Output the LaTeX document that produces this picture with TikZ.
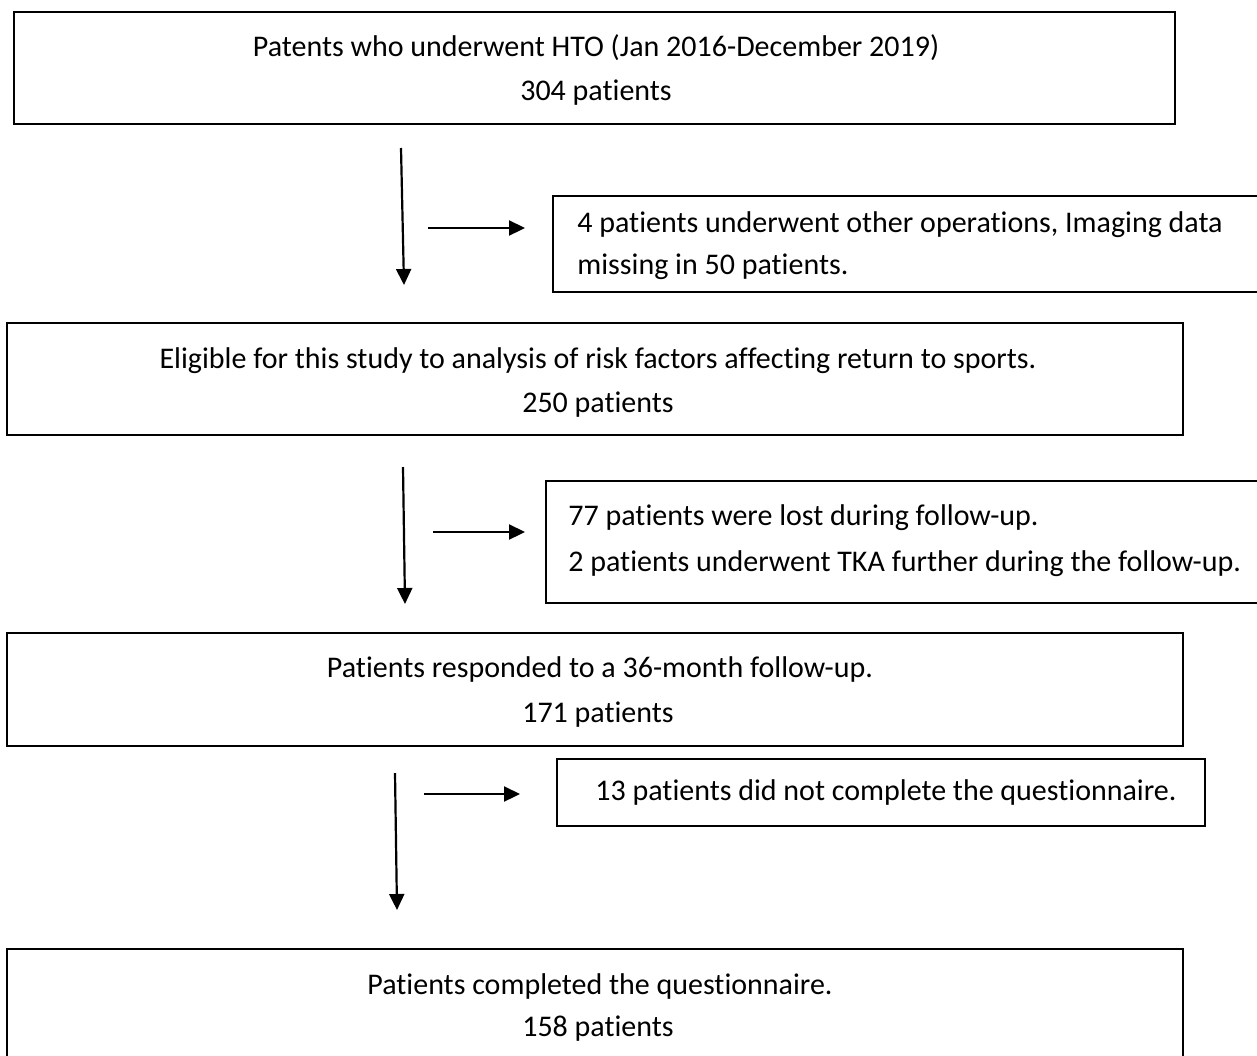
\documentclass[tikz,border=0pt]{standalone}
\usepackage{fontspec}
\setmainfont{Carlito}[Ligatures={NoCommon}]
\usetikzlibrary{arrows.meta,fit}
\begin{document}
\begin{tikzpicture}[x=0.5pt,y=-0.5pt,
  box/.style={draw, line width=1.2pt, inner sep=0pt},
  txt/.style={font=\fontsize{15}{18}\selectfont, inner sep=0pt},
  arr/.style={line width=1.1pt, -{Triangle[length=8pt,width=7.5pt]}}]
\useasboundingbox (0,0) rectangle (1257,1055);
% main boxes
\node[box, fit={(14,12) (1175,124)}] (b1) {};
\node[txt, anchor=base] (t1a) at (596,56) {Patents who underwent HTO (Jan 2016-December 2019)};
\node[txt, anchor=base] (t1b) at (596,100) {304 patients};

\node[box, fit={(7,323) (1183,435)}] (b2) {};
\node[txt, anchor=base] (t2a) at (598,368) {Eligible for this study to analysis of risk factors affecting return to sports.};
\node[txt, anchor=base] (t2b) at (598,412) {250 patients};

\node[box, fit={(7,633) (1183,746)}] (b3) {};
\node[txt, anchor=base] (t3a) at (600,677) {Patients responded to a 36-month follow-up.};
\node[txt, anchor=base] (t3b) at (598,722) {171 patients};

\node[box, fit={(7,949) (1183,1062)}] (b4) {};
\node[txt, anchor=base] (t4a) at (600,994) {Patients completed the questionnaire.};
\node[txt, anchor=base] (t4b) at (598,1036) {158 patients};

% side boxes
\node[box, fit={(553,196) (1266,292)}] (s1) {};
\node[txt, anchor=base west] (s1a) at (577,232) {4 patients underwent other operations, Imaging data};
\node[txt, anchor=base west] (s1b) at (577,274) {missing in 50 patients.};

\node[box, fit={(546,481) (1266,603)}] (s2) {};
\node[txt, anchor=base west] (s2a) at (568,525) {77 patients were lost during follow-up.};
\node[txt, anchor=base west] (s2b) at (568,571) {2 patients underwent TKA further during the follow-up.};

\node[box, fit={(557,759) (1205,826)}] (s3) {};
\node[txt, anchor=base west] (s3a) at (595,800) {13 patients did not complete the questionnaire.};

% arrow endpoints
\coordinate (v1s) at (401,148); \coordinate (v1e) at (404,285);
\coordinate (h1s) at (428,228); \coordinate (h1e) at (525,228);
\coordinate (v2s) at (403,467); \coordinate (v2e) at (405,604);
\coordinate (h2s) at (433,532); \coordinate (h2e) at (525,532);
\coordinate (v3s) at (395,773); \coordinate (v3e) at (397,910);
\coordinate (h3s) at (424,794); \coordinate (h3e) at (520,794);

\draw[arr] (v1s) -- (v1e);
\draw[arr] (h1s) -- (h1e);
\draw[arr] (v2s) -- (v2e);
\draw[arr] (h2s) -- (h2e);
\draw[arr] (v3s) -- (v3e);
\draw[arr] (h3s) -- (h3e);
\end{tikzpicture}
\end{document}
